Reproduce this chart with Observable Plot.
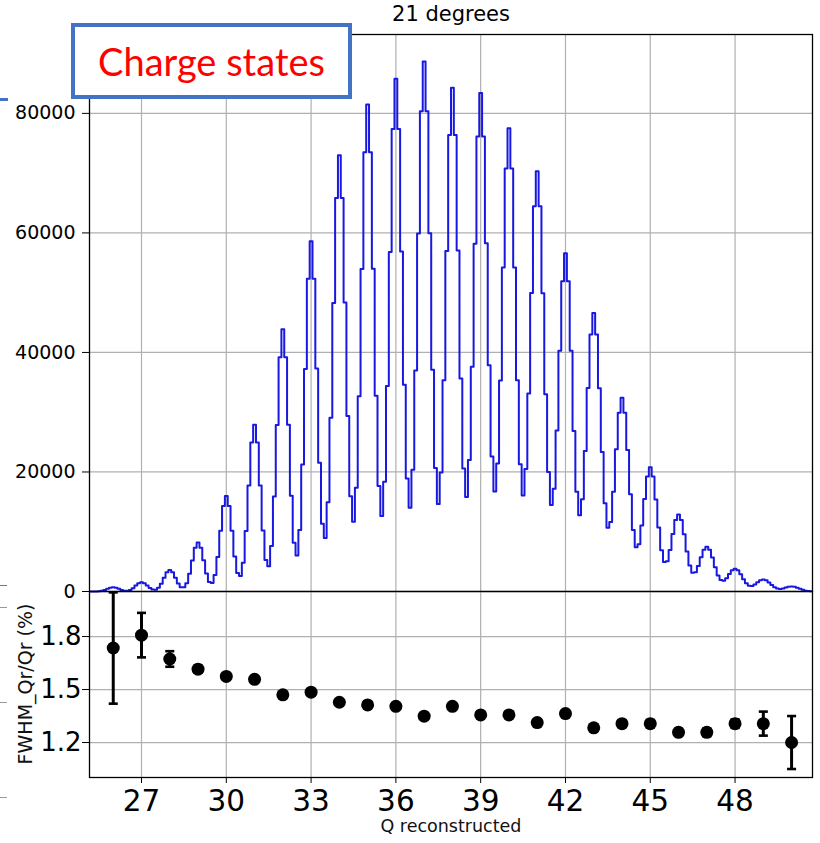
<!DOCTYPE html>
<html>
<head>
<meta charset="utf-8">
<script src="https://cdn.jsdelivr.net/npm/d3@7"></script>
<script src="https://cdn.jsdelivr.net/npm/@observablehq/plot@0.6"></script>
<style>
  body { margin: 0; background: #fff; }
  #fig { position: relative; width: 820px; height: 843px; overflow: hidden; background: #fff; font-family: "DejaVu Sans", sans-serif; }
  #fig svg { position: absolute; left: 0; background: transparent !important; overflow: visible; }
  .title { position: absolute; left: 251px; top: 4px; width: 400px; text-align: center; font-size: 21px; line-height: 21px; color: #000; white-space: nowrap; }
  .xlabel { position: absolute; left: 301px; top: 818px; width: 300px; text-align: center; font-size: 17.5px; line-height: 17.5px; color: #111; white-space: nowrap; }
  .ylabel { position: absolute; left: 25px; top: 684px; font-size: 19px; line-height: 19px; white-space: nowrap; transform: translate(-50%, -50%) rotate(-90deg); color: #111; }
  .badge { position: absolute; left: 71px; top: 23px; width: 281px; height: 76px; box-sizing: border-box; border: 4px solid #4472C4; background: #fff; z-index: 5; }
  .badge span { position: absolute; left: 0; right: 0; top: 15px; text-align: center; font-family: Lato, "Open Sans", sans-serif; font-size: 38px; line-height: 38px; color: #ff0000; white-space: nowrap; }
  .edge { position: absolute; z-index: 6; }
</style>
</head>
<body>
<div id="fig">
  <div class="title">21 degrees</div>
  <div class="badge"><span>Charge states</span></div>
  <div class="xlabel">Q reconstructed</div>
  <div class="ylabel">FWHM_Qr/Qr (%)</div>
  <div class="edge" style="left:0;top:98px;width:8px;height:3px;background:#4472C4"></div>
  <div class="edge" style="left:0;top:585px;width:7px;height:1px;background:#777"></div>
  <div class="edge" style="left:0;top:607px;width:7px;height:1px;background:#999"></div>
  <div class="edge" style="left:0;top:702px;width:7px;height:1px;background:#999"></div>
  <div class="edge" style="left:0;top:797px;width:7px;height:1px;background:#999"></div>
</div>
<script>
// Histogram of reconstructed charge Q: bin centres start at firstBinCenter, one count per bin
const firstBinCenter = 25.2;
const binWidth = 0.1;
const counts = [
  0, 3, 12,
  41, 114, 252, 445, 625, 700, 625, 445, 258, 140,
  132, 265, 561, 984, 1384, 1550, 1384, 986, 572, 314,
  303, 613, 1302, 2286, 3215, 3600, 3215, 2291, 1328, 726,
  694, 1398, 2966, 5207, 7323, 8200, 7323, 5217, 3014, 1607,
  1423, 2747, 5792, 10160, 14288, 16000, 14288, 10177, 5869, 3080,
  2582, 4818, 10106, 17717, 24915, 27900, 24915, 17743, 10215, 5290,
  4222, 7628, 15913, 27877, 39203, 43900, 39203, 27912, 16033, 8146,
  6027, 10294, 21267, 37211, 52330, 58600, 52330, 37309, 21556, 11326,
  8965, 14933, 29064, 48288, 65846, 73000, 65846, 48362, 29348, 15923,
  11680, 17341, 32653, 53970, 73513, 81500, 73513, 53987, 32734, 17652,
  12647, 18368, 34404, 56823, 77392, 85800, 77392, 56874, 34592, 18925,
  13999, 20357, 36997, 59899, 80362, 88700, 80362, 59936, 37122, 20683,
  14653, 19903, 35348, 56978, 76376, 84300, 76376, 57072, 35631, 20569,
  15814, 22010, 37612, 58198, 76144, 83400, 76144, 58282, 37861, 22575,
  16734, 21416, 35317, 54194, 70758, 77500, 70758, 54211, 35331, 21299,
  16074, 20481, 33112, 49938, 64465, 70300, 64465, 49920, 33001, 19990,
  14466, 17179, 26921, 40287, 51902, 56600, 51902, 40295, 26846, 16707,
  12743, 15440, 23498, 34050, 43012, 46600, 43012, 34026, 23336, 14773,
  10665, 11621, 16702, 23801, 29905, 32400, 29905, 23674, 16259, 10311,
  7411, 7892, 11042, 15482, 19261, 20800, 19261, 15382, 10698, 6883,
  4920, 5071, 6930, 9634, 11945, 12900, 11945, 9561, 6679, 4345,
  3151, 3209, 4251, 5734, 6983, 7500, 6983, 5680, 4069, 2693,
  1910, 1794, 2232, 2937, 3538, 3800, 3538, 2879, 2064, 1370,
  980, 933, 1170, 1544, 1862, 2000, 1862, 1513, 1080, 706,
  482, 426, 509, 660, 791, 850, 791, 639, 448, 272,
  144, 66, 26
];

// Relative resolution per charge state
const chargeQ = [26, 27, 28, 29, 30, 31, 32, 33, 34, 35, 36, 37, 38, 39, 40, 41, 42, 43, 44, 45, 46, 47, 48, 49, 50];
const fwhmPct = [1.735, 1.808, 1.673, 1.615, 1.574, 1.558, 1.470, 1.485, 1.428, 1.413, 1.405, 1.349, 1.405, 1.356, 1.356, 1.313, 1.364, 1.283, 1.307, 1.307, 1.258, 1.258, 1.307, 1.307, 1.200];
const fwhmErr = [0.315, 0.126, 0.044, 0.02, 0.018, 0.016, 0.015, 0.014, 0.013, 0.012, 0.012, 0.012, 0.012, 0.012, 0.012, 0.013, 0.014, 0.015, 0.017, 0.02, 0.02, 0.022, 0.024, 0.068, 0.15];

// Tick values
const qTicks = [27, 30, 33, 36, 39, 42, 45, 48];
const countTicks = [0, 20000, 40000, 60000, 80000];
const fwhmTicks = [1.2, 1.5, 1.8];

const hist = counts.map((n, i) => ({q: +(firstBinCenter + i * binWidth).toFixed(2), n}));
const fwhm = chargeQ.map((q, i) => ({q, v: fwhmPct[i], e: fwhmErr[i]}));

const W = 820, ML = 89, MR = 8;
const qDomain = [25.16, 50.74];
const gridStyle = {stroke: "#b0b0b0", strokeWidth: 1.2, strokeOpacity: 1};
const fig = document.getElementById("fig");

// Upper panel: counts per bin
const upper = Plot.plot({
  width: W, height: 600,
  marginLeft: ML, marginRight: MR, marginTop: 34, marginBottom: 9,
  style: {background: "transparent", fontFamily: "DejaVu Sans", color: "black"},
  x: {domain: qDomain, axis: null},
  y: {domain: [0, 93200]},
  marks: [
    Plot.ruleY(countTicks.slice(1), gridStyle),
    Plot.ruleX(qTicks, gridStyle),
    Plot.line(hist, {x: "q", y: "n", curve: "step", stroke: "#1818e0", strokeWidth: 2}),
    Plot.frame({stroke: "black", strokeWidth: 1.3}),
    Plot.axisY(countTicks, {tickSize: 7, tickPadding: 7, fontSize: 19, tickFormat: d => String(d), label: null})
  ]
});
upper.style.top = "0px";
fig.appendChild(upper);

// Lower panel: FWHM / Q with error bars
const lower = Plot.plot({
  width: W, height: 252,
  marginLeft: ML, marginRight: MR, marginTop: 0, marginBottom: 66,
  style: {background: "transparent", fontFamily: "DejaVu Sans", color: "black"},
  x: {domain: qDomain},
  y: {domain: [1.002, 2.055]},
  marks: [
    Plot.ruleY(fwhmTicks, gridStyle),
    Plot.ruleX(qTicks, gridStyle),
    Plot.ruleX(fwhm, {x: "q", y1: d => d.v - d.e, y2: d => d.v + d.e, stroke: "black", strokeWidth: 3}),
    Plot.link(fwhm, {x1: d => d.q - 0.16, x2: d => d.q + 0.16, y1: d => d.v - d.e, y2: d => d.v - d.e, stroke: "black", strokeWidth: 2.6}),
    Plot.link(fwhm, {x1: d => d.q - 0.16, x2: d => d.q + 0.16, y1: d => d.v + d.e, y2: d => d.v + d.e, stroke: "black", strokeWidth: 2.6}),
    Plot.dot(fwhm, {x: "q", y: "v", r: 6.5, fill: "black", stroke: "none"}),
    Plot.frame({stroke: "black", strokeWidth: 1.3}),
    Plot.axisX(qTicks, {tickSize: 6, tickPadding: 7, fontSize: 29.5, tickFormat: d => String(d), label: null}),
    Plot.axisY(fwhmTicks, {tickSize: 7, tickPadding: 1, fontSize: 26, tickFormat: d => d.toFixed(1), label: null})
  ]
});
lower.style.top = "591px";
fig.appendChild(lower);
</script>
</body>
</html>
